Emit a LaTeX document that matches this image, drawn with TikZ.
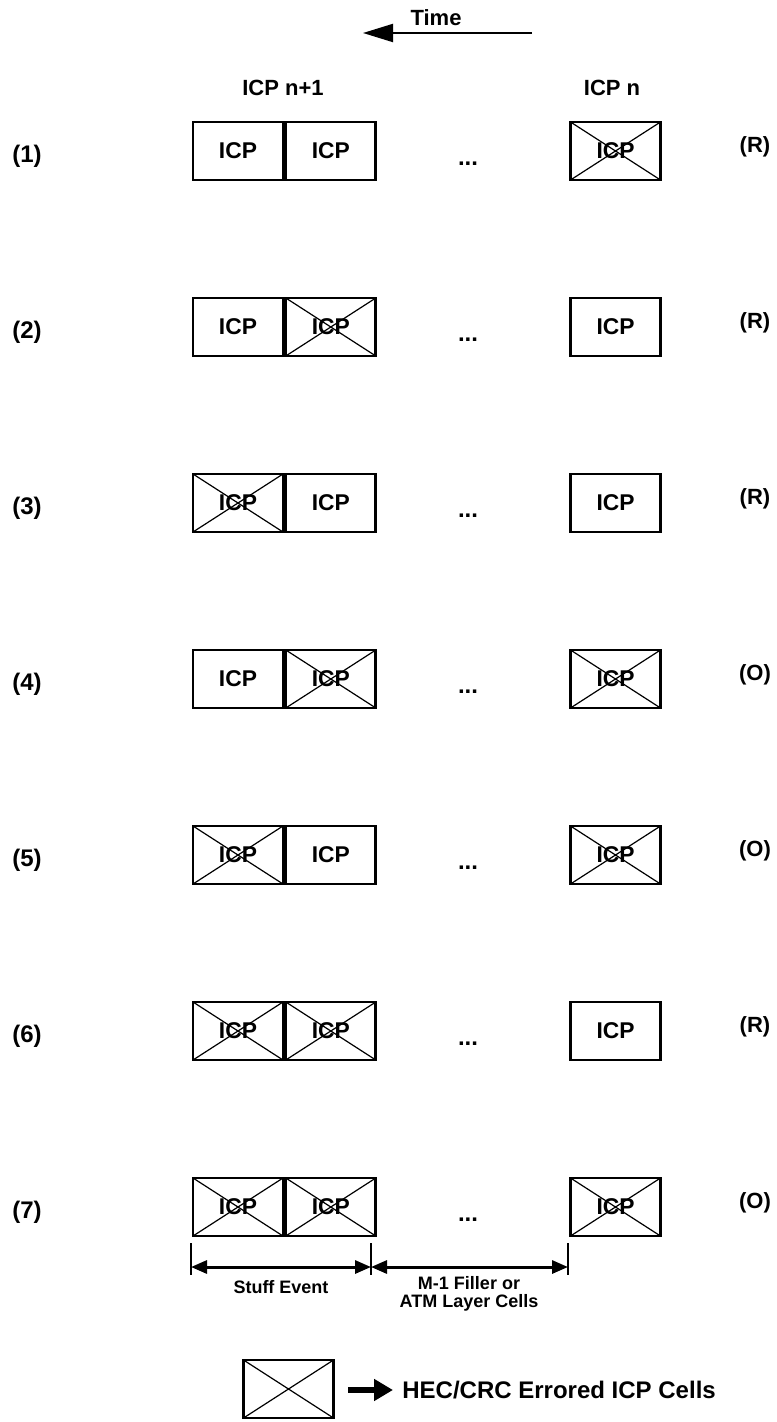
\documentclass[tikz,border=0pt]{standalone}
\usepackage{fontspec}
\setmainfont{Liberation Sans}
\usepackage{tikz}
\usetikzlibrary{arrows.meta}
\usetikzlibrary{positioning}

\tikzset{
	cell/.style={draw, line width=1.4pt, minimum width=45pt, minimum height=29pt, inner sep=0pt,
	             font=\fontsize{11.4}{13}\selectfont\bfseries},
	errcell/.style={cell, path picture={
		\draw[line width=0.6pt] (path picture bounding box.north west) -- (path picture bounding box.south east)
		                        (path picture bounding box.south west) -- (path picture bounding box.north east);}},
	hdr/.style={inner sep=0pt, font=\fontsize{11}{13}\selectfont\bfseries},
	lab/.style={inner sep=0pt, font=\fontsize{12}{14}\selectfont\bfseries},
	note/.style={inner sep=0pt, align=center, font=\fontsize{9}{9}\selectfont\bfseries}
}

\begin{document}
\begin{tikzpicture}[x=0.5pt, y=-0.5pt]
	\useasboundingbox (0,0) rectangle (776,1422);

	% time axis
	\node[hdr] (time) at (436,18) {Time};
	\coordinate (tfrom) at (532,33);
	\coordinate (tto) at (363,33);
	\draw[line width=1pt, -{Triangle[length=15pt,width=9pt]}] (tfrom) -- (tto);

	\node[hdr] (icpnext) at (283,88) {ICP n+1};
	\node[hdr] (icpn) at (612,88) {ICP n};

	% rows
	\foreach \r/\sa/\sb/\sn/\res in {1/cell/cell/errcell/R, 2/cell/errcell/cell/R, 3/errcell/cell/cell/R,
	                                4/cell/errcell/errcell/O, 5/errcell/cell/errcell/O,
	                                6/errcell/errcell/cell/R, 7/errcell/errcell/errcell/O}
	{
		\pgfmathsetmacro{\yc}{151+176*(\r-1)}
		\node[lab] (num\r) at (27,\yc+5) {(\r)};
		\node[\sa] (a\r) at (238,\yc) {ICP};
		\node[\sb] (b\r) [right=0pt of a\r] {ICP};
		\node[lab] (dots\r) at (468,\yc+13) {...};
		\node[\sn] (n\r) at (615.5,\yc) {ICP};
		\node[hdr] (res\r) at (755,\yc-4) {(\res)};
	}

	% dimension lines
	\foreach \k/\x in {1/191,2/371,3/568}
	{
		\coordinate (ktop\k) at (\x,1243);
		\coordinate (kbot\k) at (\x,1275);
		\coordinate (kmid\k) at (\x,1267);
		\draw[line width=1pt] (ktop\k) -- (kbot\k);
	}
	\begin{scope}[line width=1.5pt, {Triangle[length=8pt,width=6.5pt]}-{Triangle[length=8pt,width=6.5pt]}]
		\draw (kmid1) -- (kmid2);
		\draw (kmid2) -- (kmid3);
	\end{scope}
	\node[note] (stuff) at (281,1287) {Stuff Event};
	\node[note] (filler) at (469,1294) {M-1 Filler or\\ATM Layer Cells};

	% legend
	\node[errcell] (key) at (288.5,1389) {};
	\coordinate (keyarr) at (348,1390);
	\node[lab, anchor=west, inner xsep=4.5pt] (keytext) at (393,1390) {HEC/CRC Errored ICP Cells};
	\draw[line width=3pt, -{Triangle[length=9.5pt,width=10.5pt]}] (keyarr) -- (keytext.west);
\end{tikzpicture}
\end{document}
